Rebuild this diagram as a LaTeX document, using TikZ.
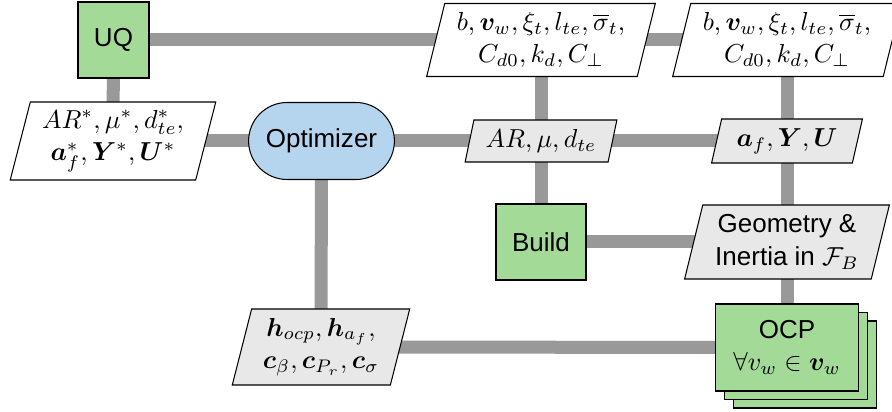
\documentclass[tikz,border=0pt]{standalone}
\usepackage{amsmath}
\usepackage{bm}
\usepackage{fontspec}
\setsansfont{Liberation Sans}
\usetikzlibrary{shapes.geometric,shapes.misc,backgrounds}
\definecolor{conngray}{RGB}{153,153,153}
\definecolor{funcgreen}{RGB}{163,218,152}
\definecolor{optblue}{RGB}{181,213,238}
\definecolor{datagray}{RGB}{232,232,232}
\newcommand{\px}{0.3846pt}
\newcommand{\figfont}{\fontsize{10}{12.5}\selectfont}
\begin{document}
\begin{tikzpicture}[x=0.3846pt,y=-0.3846pt,
  base/.style={draw=black, line width=0.4pt, inner sep=1pt, align=center},
  func/.style={base, rectangle, fill=funcgreen, font=\figfont\sffamily},
  opt/.style={base, rounded rectangle, fill=optblue, font=\figfont\sffamily},
  data/.style={base, trapezium, trapezium left angle=75, trapezium right angle=105,
    trapezium stretches=true, fill=white, font=\figfont},
  datag/.style={data, fill=datagray},
  conn/.style={draw=conngray, line width=5pt}]
\useasboundingbox (0,0) rectangle (892,412);

% functions
\node[func, minimum width=71*\px, minimum height=76*\px] (UQ) at (113.5,40) {UQ};
\node[func, minimum width=90*\px, minimum height=76*\px] (Build) at (541,242) {Build};
\node[func, minimum width=143*\px, minimum height=87*\px] (OCPc) at (805,364.5) {};
\node[func, minimum width=143*\px, minimum height=87*\px] (OCPb) at (796,356) {};
\node[func, minimum width=143*\px, minimum height=87*\px] (OCP) at (787,347.5)
  {OCP\\$\forall v_w \in \bm{v}_w$};

% optimizer
\node[opt, minimum width=151*\px, minimum height=77*\px] (Opt) at (321.5,141) {Optimizer};

% data blocks
\node[data, minimum width=229*\px, minimum height=73*\px] (P1) at (541,40)
  {$b, \bm{v}_w, \xi_t, l_{te}, \overline{\sigma}_t,$\\$C_{d0}, k_d, C_\perp$};
\node[data, minimum width=229*\px, minimum height=73*\px] (P2) at (787,40)
  {$b, \bm{v}_w, \xi_t, l_{te}, \overline{\sigma}_t,$\\$C_{d0}, k_d, C_\perp$};
\node[data, minimum width=206*\px, minimum height=78*\px] (ARs) at (113,141)
  {$AR^*, \mu^*, d_{te}^*,$\\$\bm{a}_f^*, \bm{Y}^*, \bm{U}^*$};
\node[datag, minimum width=152*\px, minimum height=42*\px] (AR) at (541,141)
  {$AR, \mu, d_{te}$};
\node[datag, minimum width=151*\px, minimum height=44*\px] (AF) at (787,141)
  {$\bm{a}_f, \bm{Y}, \bm{U}$};
\node[datag, minimum width=206*\px, minimum height=74*\px, font=\figfont\sffamily] (Geom) at (787,242)
  {Geometry \&\\Inertia in $\mathcal{F}_B$};
\node[datag, minimum width=178*\px, minimum height=76*\px] (H) at (321,347)
  {$\bm{h}_{ocp}, \bm{h}_{a_f},$\\$\bm{c}_\beta, \bm{c}_{P_r}, \bm{c}_\sigma$};

\begin{pgfonlayer}{background}
\draw[conn] (UQ.center) -- (P1.center);
\draw[conn] (P1.center) -- (P2.center);
\draw[conn] (UQ.center) -- (ARs.center);
\draw[conn] (ARs.center) -- (Opt.center);
\draw[conn] (Opt.center) -- (AR.center);
\draw[conn] (AR.center) -- (AF.center);
\draw[conn] (P1.center) -- (AR.center);
\draw[conn] (AR.center) -- (Build.center);
\draw[conn] (P2.center) -- (AF.center);
\draw[conn] (AF.center) -- (Geom.center);
\draw[conn] (Geom.center) -- (OCP.center);
\draw[conn] (Build.center) -- (Geom.center);
\draw[conn] (Opt.center) -- (H.center);
\draw[conn] (H.center) -- (OCP.center);
\end{pgfonlayer}
\end{tikzpicture}
\end{document}
